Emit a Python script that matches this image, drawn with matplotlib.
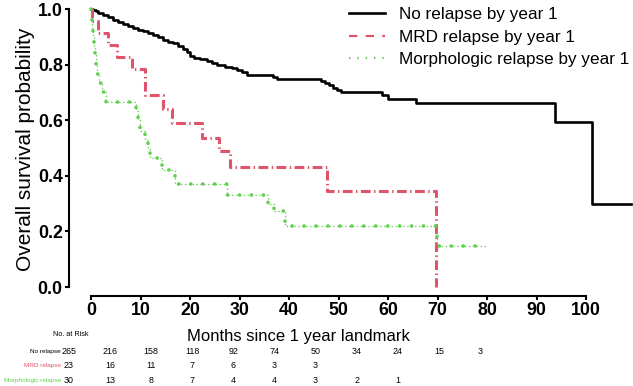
import matplotlib
matplotlib.use("Agg")
import matplotlib.pyplot as plt
from matplotlib.lines import Line2D

plt.rcParams['font.family'] = ['Liberation Sans', 'DejaVu Sans']
plt.rcParams['lines.scale_dashes'] = False

RED = '#DF536B'
GREEN = '#61D04F'

# Kaplan-Meier steps (months, survival)
no_t = [0, 0.5, 1.0, 1.5, 2.5, 3.5, 4.5, 5.5, 6.5, 7.5, 8.5, 9.5, 10.5, 11.5,
        12.5, 13.5, 14.5, 15.5, 16.5, 17.5, 18.5, 19.3, 20.0, 20.8, 22.0, 23.5,
        24.5, 25.5, 27.0, 28.5, 29.5, 30.5, 31.5, 36.8, 37.5, 46.5, 47.3, 48.0,
        48.8, 49.6, 50.5, 58.8, 60.0, 65.7, 93.7, 101.3]
no_s = [1.0, 0.996, 0.992, 0.985, 0.977, 0.970, 0.962, 0.955, 0.947, 0.940,
        0.932, 0.925, 0.921, 0.913, 0.906, 0.898, 0.890, 0.883, 0.876, 0.868,
        0.857, 0.845, 0.832, 0.825, 0.820, 0.812, 0.805, 0.797, 0.792, 0.787,
        0.779, 0.772, 0.764, 0.757, 0.750, 0.741, 0.733, 0.725, 0.717, 0.709,
        0.701, 0.690, 0.678, 0.663, 0.593, 0.300]
no_end = 109

mrd_t = [0, 0.3, 1.5, 3.5, 5.2, 8.2, 10.9, 14.6, 16.3, 22.4, 25.9, 28.1, 47.6, 69.6]
mrd_s = [1.0, 0.957, 0.913, 0.870, 0.826, 0.783, 0.690, 0.639, 0.591, 0.537,
         0.488, 0.431, 0.345, 0.0]
mrd_end = 69.6

morph_t = [0, 0.1, 0.3, 0.45, 0.6, 0.8, 1.0, 1.2, 1.6, 2.2, 3.0, 9.0, 9.5, 9.8,
           10.9, 11.5, 12.0, 14.4, 17.0, 27.4, 35.8, 37.0, 39.1, 69.8]
morph_s = [1.0, 0.967, 0.933, 0.9, 0.867, 0.833, 0.8, 0.767, 0.733, 0.7, 0.667,
           0.633, 0.6, 0.56, 0.53, 0.495, 0.465, 0.422, 0.37, 0.33, 0.30, 0.275,
           0.22, 0.149]
morph_end = 80.0

# numbers at risk
risk_times = [0, 10, 20, 30, 40, 50, 60, 70, 80, 90, 100]
risk_no = [265, 216, 158, 118, 92, 74, 50, 34, 24, 15, 3]
risk_mrd = [23, 16, 11, 7, 6, 3, 3]
risk_morph = [30, 13, 8, 7, 4, 4, 3, 2, 1]

labels = ['No relapse by year 1', 'MRD relapse by year 1', 'Morphologic relapse by year 1']
row_names = ['No relapse', 'MRD relapse', 'Morphologic relapse']

W, H = 633, 386
fig = plt.figure(figsize=(W / 100, H / 100), dpi=100)

# main axes placed in pixels
left, right, top, bottom = 69, 630, 2, 296
ax = fig.add_axes([left / W, (H - bottom) / H, (right - left) / W, (bottom - top) / H])
ax.set_xlim((left - 91) / 4.95, (right - 91) / 4.95)
ax.set_ylim(-(bottom - 287) / 278, 1 + (9 - top) / 278)


def steps(t, s, end):
    return list(t) + [end], list(s) + [s[-1]]


x, y = steps(no_t, no_s, no_end)
ax.plot(x, y, drawstyle='steps-post', color='black', lw=1.9, clip_on=False)

x, y = steps(mrd_t, mrd_s, mrd_end)
ax.plot(x, y, drawstyle='steps-post', color=RED, lw=2.2,
        dashes=[7, 2.5, 1, 2.5], dash_capstyle='butt')

x, y = steps(morph_t, morph_s, morph_end)
ax.plot(x, y, drawstyle='steps-post', color=GREEN, lw=0.9, dashes=[1, 1.8])
ax.plot(x, y, drawstyle='steps-post', color=GREEN, lw=2.6,
        dashes=[0.1, 8.5], dash_capstyle='round')

for sp in ['top', 'right']:
    ax.spines[sp].set_visible(False)
ax.spines['left'].set_bounds(0, 1)
ax.spines['bottom'].set_bounds(0, 100)
for sp in ['left', 'bottom']:
    ax.spines[sp].set_linewidth(1.5)
ax.set_xticks(range(0, 101, 10))
ax.set_yticks([0, 0.2, 0.4, 0.6, 0.8, 1.0])
ax.set_yticklabels(['0.0', '0.2', '0.4', '0.6', '0.8', '1.0'])
ax.tick_params(width=1.5, length=3, labelsize=12.8, pad=1.5)
for lab in ax.get_xticklabels() + ax.get_yticklabels():
    lab.set_fontweight('bold')

ax.set_ylabel('Overall survival probability', fontsize=15, labelpad=2)
fig.text(298 / W, 1 - 336 / H, 'Months since 1 year landmark', fontsize=12,
         ha='center', va='center')

handles = [Line2D([], [], color='black', lw=1.9),
           Line2D([], [], color=RED, lw=1.6, dashes=[6, 6]),
           Line2D([], [], color=GREEN, lw=1.6, dashes=[1, 5])]
ax.legend(handles, labels, loc='upper left', bbox_to_anchor=(346 / W, 1 - 4 / H),
          bbox_transform=fig.transFigure, frameon=False, fontsize=12.3,
          handlelength=2.1, handletextpad=0.8, labelspacing=0.42,
          borderaxespad=0, borderpad=0.2)

# risk table on its own scale
tab = fig.add_axes([69 / W, 0, (480 - 69) / W, 1])
tab.set_xlim(0, 100)
tab.set_ylim(H, 0)
tab.axis('off')
tab.text(0.5, 335, 'No. at Risk', fontsize=5.2, ha='center', va='center')
rows = [(risk_no, 'black', 351.7), (risk_mrd, RED, 365.7), (risk_morph, GREEN, 380.7)]
for (vals, col, ypix), name in zip(rows, row_names):
    tab.text(-1.95, ypix, name, fontsize=4.6, color=col, ha='right', va='center')
    for t, v in zip(risk_times, vals):
        tab.text(t, ypix, str(v), fontsize=6.4, ha='center', va='center')

fig.savefig('out.png', dpi=100)
